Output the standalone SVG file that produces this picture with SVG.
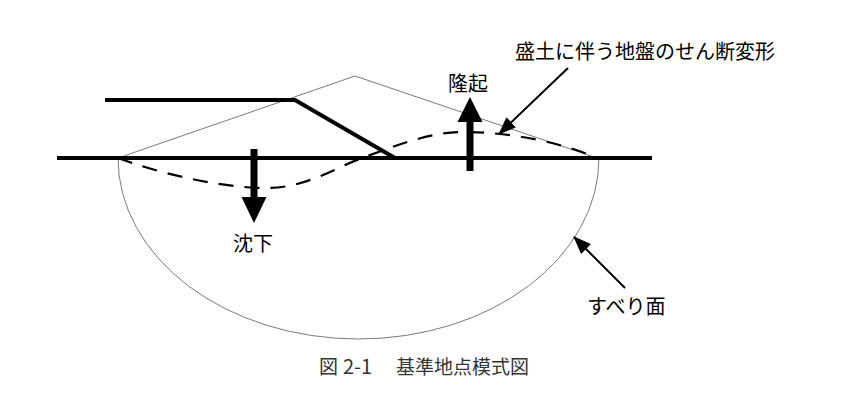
<svg xmlns="http://www.w3.org/2000/svg" width="850" height="410" viewBox="0 0 850 410">
<defs>
<style>
.thick{stroke:#000;stroke-width:4;fill:none;stroke-linecap:butt;stroke-linejoin:miter}
.thin{stroke:#7a7a7a;stroke-width:1;fill:none}
.dash{stroke:#000;stroke-width:2.2;fill:none;stroke-dasharray:15 11}
.lead{stroke:#000;stroke-width:2;fill:none}
.lbl{font-family:"Noto Sans CJK JP","Noto Sans",sans-serif;font-size:20px;fill:#000}
.cap{font-family:"Noto Sans CJK JP","Noto Sans",sans-serif;font-size:19px;font-weight:400;fill:#333}
</style>
<marker id="ah" markerUnits="userSpaceOnUse" markerWidth="18" markerHeight="14" refX="17" refY="7" orient="auto">
<path d="M0,0 L18,7 L0,14 z" fill="#000"/>
</marker>
</defs>
<rect width="850" height="410" fill="#fff"/>
<g id="slip-surface">
<path class="thin" d="M118,158 A240.5,181 0 0 0 599,158"/>
</g>
<g id="embankment-outline">
<path class="thin" d="M118,158 L355,76 L597,158"/>
</g>
<g id="deformation">
<path class="dash" d="M118,158 C150,170 215,188 267,188 C305,188 335,168 362,158 C395,146 430,132 462,132 C510,132 560,142 597,158"/>
</g>
<g id="ground">
<path class="thick" d="M57,158 L652,158"/>
</g>
<g id="embankment">
<path class="thick" d="M105,100 L295,100 L395,158"/>
</g>
<g id="settlement">
<rect x="250.5" y="149" width="7" height="49" fill="#000"/>
<polygon points="241.5,197 266.5,197 254,223" fill="#000"/>
<text class="lbl" x="233" y="251">沈下</text>
</g>
<g id="heave">
<rect x="466.5" y="120" width="7" height="51" fill="#000"/>
<polygon points="457.5,122 482.5,122 470,97" fill="#000"/>
<text class="lbl" x="448" y="90.5">隆起</text>
</g>
<g id="label-deformation">
<text class="lbl" x="515" y="58.5">盛土に伴う地盤のせん断変形</text>
</g>
<g id="label-slip">
<text class="lbl" x="587" y="313.5">すべり面</text>
</g>
<g id="connectors">
<line class="lead" x1="568" y1="68" x2="499" y2="134" marker-end="url(#ah)"/>
<line class="lead" x1="625" y1="288" x2="574" y2="237" marker-end="url(#ah)"/>
</g>
<g id="caption">
<text class="cap" x="319" y="374">図 <tspan x="343" font-size="20">2-1</tspan>　<tspan x="396">基準地点模式図</tspan></text>
</g>
</svg>
